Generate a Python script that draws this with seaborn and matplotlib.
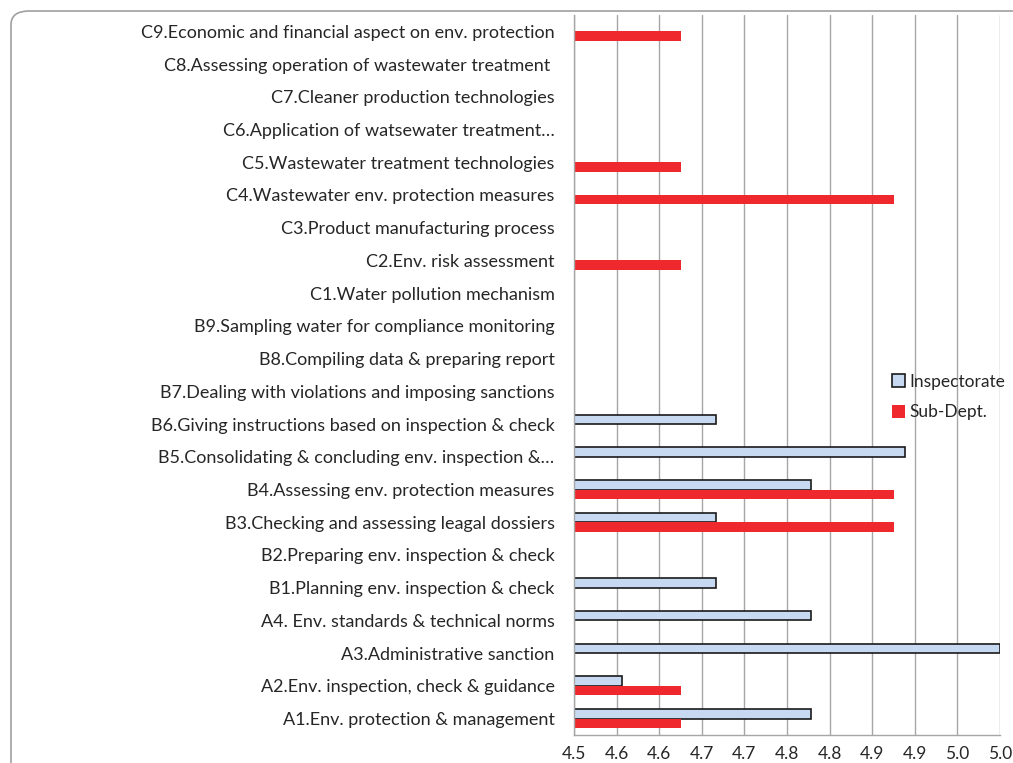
import numpy as np
import pandas as pd
import seaborn as sns
import matplotlib.pyplot as plt
from matplotlib.patches import FancyBboxPatch, Patch

# Datos (de arriba hacia abajo)
categories = [
    "C9.Economic and financial aspect on env. protection",
    "C8.Assessing operation of wastewater treatment ",
    "C7.Cleaner production technologies",
    "C6.Application of watsewater treatment\u2026",
    "C5.Wastewater treatment technologies",
    "C4.Wastewater env. protection measures",
    "C3.Product manufacturing process",
    "C2.Env. risk assessment",
    "C1.Water pollution mechanism",
    "B9.Sampling water for compliance monitoring",
    "B8.Compiling data & preparing report",
    "B7.Dealing with violations and imposing sanctions",
    "B6.Giving instructions based on inspection & check",
    "B5.Consolidating & concluding env. inspection &\u2026",
    "B4.Assessing env. protection measures",
    "B3.Checking and assessing leagal dossiers",
    "B2.Preparing env. inspection & check",
    "B1.Planning env. inspection & check",
    "A4. Env. standards & technical norms",
    "A3.Administrative sanction",
    "A2.Env. inspection, check & guidance",
    "A1.Env. protection & management",
]
nan = np.nan
inspectorate = [nan, nan, nan, nan, nan, nan, nan, nan, nan, nan, nan, nan,
                4.667, 4.889, 4.778, 4.667, nan, 4.667, 4.778, 5.0, 4.556, 4.778]
sub_dept = [4.625, nan, nan, nan, 4.625, 4.875, nan, 4.625, nan, nan, nan, nan,
            nan, nan, 4.875, 4.875, nan, nan, nan, nan, 4.625, 4.625]
series = ["Inspectorate", "Sub-Dept."]
xtick_values = [4.5, 4.55, 4.6, 4.65, 4.7, 4.75, 4.8, 4.85, 4.9, 4.95, 5.0]
xtick_labels = ["4.5", "4.6", "4.6", "4.7", "4.7", "4.8", "4.8", "4.9", "4.9", "5.0", "5.0"]

df = pd.DataFrame({
    "category": categories * 2,
    "series": [series[0]] * len(categories) + [series[1]] * len(categories),
    "value": inspectorate + sub_dept,
})

sns.set_style("white")
plt.rcParams['font.family'] = ['Lato', 'DejaVu Sans']

fig = plt.figure(figsize=(10.13, 7.63), dpi=100)
ax = fig.add_axes([574 / 1013, 1 - 735 / 763, 426 / 1013, 720 / 763])

colors = {"Inspectorate": "#c6d9f1", "Sub-Dept.": "#ee282d"}
sns.barplot(data=df, y="category", x="value", hue="series", order=categories,
            hue_order=series, palette=colors, orient="h", width=0.58,
            saturation=1, legend=False, ax=ax)

# bordes de las barras
for bar in ax.containers[0]:
    bar.set_edgecolor("#1a1a1a")
    bar.set_linewidth(1.2)
for bar in ax.containers[1]:
    bar.set_edgecolor("none")

ax.set_xlim(4.5, 5.0)
ax.set_ylim(len(categories) - 0.5, -0.5)
ax.set_xticks(xtick_values)
ax.set_xticklabels(xtick_labels, fontsize=12.5)
ax.set_xlabel("")
ax.set_ylabel("")
ax.tick_params(axis="y", which="major", length=0, pad=14, labelsize=13)
ax.set_yticks(np.arange(-0.5, len(categories), 1), minor=True)
ax.tick_params(axis="y", which="minor", length=5, color="#a6a6a6", width=1)
ax.tick_params(axis="x", which="major", length=5, color="#a6a6a6", width=1, pad=3)
ax.xaxis.grid(True, color="#a6a6a6", linewidth=1)
ax.yaxis.grid(False)
ax.set_axisbelow(True)
for side in ["top", "right"]:
    ax.spines[side].set_visible(False)
for side in ["left", "bottom"]:
    ax.spines[side].set_color("#a6a6a6")
    ax.spines[side].set_linewidth(1)

handles = [Patch(facecolor=colors["Inspectorate"], edgecolor="#1a1a1a", linewidth=1.2),
           Patch(facecolor=colors["Sub-Dept."], edgecolor="none")]
fig.legend(handles, series, loc="upper left", bbox_to_anchor=(876 / 1013, 1 - 358 / 763),
           frameon=False, fontsize=12.5, handlelength=0.75, handleheight=0.75,
           handletextpad=0.3, labelspacing=0.85)

# borde redondeado del area del grafico
border = FancyBboxPatch((11 / 1013, -20 / 763), 1040 / 1013, 772 / 763,
                        boxstyle="round,pad=0,rounding_size=0.018",
                        transform=fig.transFigure, facecolor="none",
                        edgecolor="#a0a0a0", linewidth=1.2, zorder=-1)
fig.patches.append(border)

fig.savefig("out.png", dpi=100)
